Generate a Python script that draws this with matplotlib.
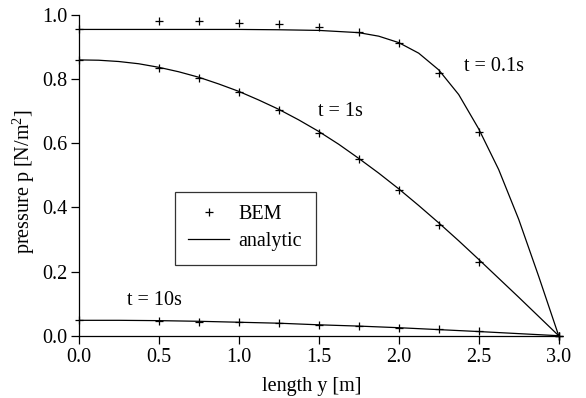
#! /usr/bin/env python3
# coding: utf-8

import matplotlib
matplotlib.use('Agg')
import matplotlib.pyplot as plt

plt.rcParams['font.family'] = ['Liberation Serif', 'DejaVu Serif']
plt.rcParams['mathtext.fontset'] = 'custom'
plt.rcParams['mathtext.rm'] = 'Liberation Serif'
plt.rcParams['mathtext.it'] = 'Liberation Serif:italic'

FS = 14.5

# analytic solutions
y_01 = [0.0, 0.5, 1.0, 1.25, 1.5, 1.75, 1.875, 2.0, 2.125, 2.25, 2.375, 2.5, 2.625,
        2.75, 2.875, 3.0]
p_01 = [0.955, 0.955, 0.955, 0.954, 0.952, 0.945, 0.934, 0.914, 0.881, 0.829, 0.752,
        0.645, 0.518, 0.363, 0.185, 0.0]

y_1 = [0.0, 0.125, 0.25, 0.375, 0.5, 0.625, 0.75, 0.875, 1.0, 1.125, 1.25, 1.375, 1.5,
       1.625, 1.75, 1.875, 2.0, 2.125, 2.25, 2.375, 2.5, 2.625, 2.75, 2.875, 3.0]
p_1 = [0.860, 0.859, 0.855, 0.848, 0.837, 0.823, 0.806, 0.785, 0.762, 0.735, 0.706,
       0.673, 0.637, 0.597, 0.553, 0.507, 0.458, 0.406, 0.352, 0.296, 0.238, 0.179,
       0.120, 0.060, 0.0]

y_10 = [0.0, 0.25, 0.5, 0.75, 1.0, 1.25, 1.5, 1.75, 2.0, 2.25, 2.5, 2.75, 3.0]
p_10 = [0.048, 0.048, 0.047, 0.045, 0.042, 0.039, 0.034, 0.030, 0.025, 0.019, 0.013,
        0.0065, 0.0]

# BEM results
bem_y = [0.0, 0.5, 0.75, 1.0, 1.25, 1.5, 1.75, 2.0, 2.25, 2.5, 3.0]
bem_01 = [0.955, 0.982, 0.980, 0.976, 0.971, 0.962, 0.946, 0.912, 0.820, 0.634, 0.0]
bem_1 = [0.86, 0.834, 0.803, 0.759, 0.704, 0.633, 0.550, 0.454, 0.345, 0.229, 0.0]
bem_10 = [0.048, 0.047, 0.044, 0.042, 0.039, 0.034, 0.030, 0.025, 0.020, 0.014, 0.0]

labels = ['t = 0.1s', 't = 1s', 't = 10s']
label_pos = [(2.41, 0.839), (1.496, 0.698), (0.30, 0.111)]


def plot():
    fig = plt.figure(figsize=(5.86, 3.98), dpi=100)
    ax = fig.add_axes([0.1343, 0.1565, 0.8191, 0.8058])

    lw = 0.9
    for yy, pp in [(y_01, p_01), (y_1, p_1), (y_10, p_10)]:
        ax.plot(yy, pp, color='black', lw=lw)
    for pp in [bem_01, bem_1, bem_10]:
        ax.plot(bem_y, pp, ls='none', marker='+', ms=6, mew=0.9,
                color='black', clip_on=False)

    for txt, (x, y) in zip(labels, label_pos):
        ax.text(x, y, txt, fontsize=FS, va='center', ha='left')

    ax.set_xlim(0, 3.0)
    ax.set_ylim(0, 1.0)
    ax.set_xticks([0.0, 0.5, 1.0, 1.5, 2.0, 2.5, 3.0])
    ax.set_yticks([0.0, 0.2, 0.4, 0.6, 0.8, 1.0])
    ax.set_xticklabels(['%.1f' % v for v in ax.get_xticks()])
    ax.set_yticklabels(['%.1f' % v for v in ax.get_yticks()])
    ax.tick_params(direction='out', length=6, width=0.9, labelsize=FS,
                   top=False, right=False)
    ax.tick_params(axis='y', pad=2)
    ax.tick_params(axis='x', pad=3)
    for side in ['top', 'right']:
        ax.spines[side].set_visible(False)
    for side in ['left', 'bottom']:
        ax.spines[side].set_linewidth(0.9)

    ax.set_xlabel('length y [m]', fontsize=FS)
    ax.set_ylabel('pressure p [N/m$^2$]', fontsize=FS)
    ax.xaxis.set_label_coords(0.485, -0.128)
    ax.yaxis.set_label_coords(-0.0875, 0.481)

    h_bem, = ax.plot([], [], ls='none', marker='+', ms=6, mew=0.9, color='black')
    h_an, = ax.plot([], [], color='black', lw=lw)
    leg = ax.legend([h_bem, h_an], ['BEM', 'analytic'], fontsize=FS,
                    loc='upper left', bbox_to_anchor=(0.2006, 0.2236, 0.2934, 0.2254),
                    mode='expand', borderaxespad=0, frameon=True, fancybox=False,
                    handlelength=2.05, borderpad=0.65, labelspacing=0.42,
                    handletextpad=0.45)
    leg.get_frame().set_edgecolor('black')
    leg.get_frame().set_linewidth(0.9)

    fig.savefig('out.png', dpi=100)


if __name__ == '__main__':
    plot()
